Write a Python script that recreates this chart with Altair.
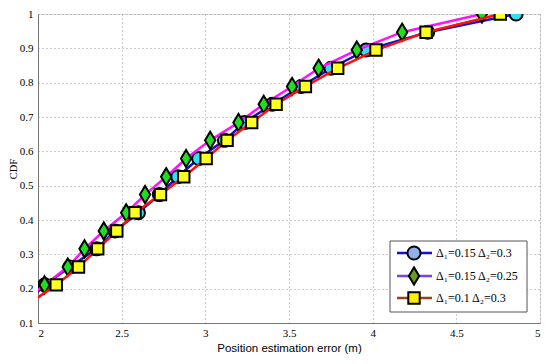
import altair as alt
import pandas as pd

cdf = [0.158, 0.211, 0.263, 0.316, 0.368, 0.421, 0.474, 0.526, 0.579,
       0.632, 0.684, 0.737, 0.789, 0.842, 0.895, 0.947, 1.0]
err_a = [1.93, 2.04, 2.19, 2.35, 2.46, 2.60, 2.725, 2.835, 2.96, 3.114,
         3.234, 3.40, 3.572, 3.751, 3.96, 4.329, 4.857]
err_b = [1.90, 2.039, 2.178, 2.278, 2.393, 2.527, 2.64, 2.766, 2.885, 3.029,
         3.198, 3.349, 3.518, 3.677, 3.905, 4.176, 4.653]
err_c = [1.95, 2.109, 2.242, 2.357, 2.471, 2.58, 2.732, 2.871, 3.005, 3.13,
         3.277, 3.423, 3.598, 3.791, 4.02, 4.319, 4.763]

labels = ["Δ₁=0.15 Δ₂=0.3", "Δ₁=0.15 Δ₂=0.25", "Δ₁=0.1 Δ₂=0.3"]
line_colors = ["#1010d0", "#ff10ff", "#ff1010"]
fill_colors = ["#30e0f0", "#20dd20", "#ffff20"]
legend_line_colors = ["#1010d0", "#7a40f0", "#a0401a"]
legend_fill_colors = ["#8fb0ee", "#6a9a20", "#ffee00"]
diamond = "M0,-1.25L0.75,0L0,1.25L-0.75,0Z"
shapes = ["circle", diamond, "square"]
sizes = [170, 190, 130]

W, H = 502, 309
xs = alt.Scale(domain=[2, 5], nice=False, zero=False)
ys = alt.Scale(domain=[0.1, 1], nice=False, zero=False)

x_axis = alt.Axis(values=[2, 2.5, 3, 3.5, 4, 4.5, 5], format=".1~f",
                  title="Position estimation error (m)",
                  titleFont="Liberation Sans", titleFontSize=11.5, titleFontWeight="normal",
                  titleColor="#000", titlePadding=4,
                  labelFont="Liberation Serif", labelFontSize=11, labelColor="#000",
                  labelPadding=4, ticks=False,
                  grid=True, gridDash=[1, 3], gridColor="#999", gridWidth=1,
                  domainColor="#777")
y_axis = alt.Axis(values=[0.1, 0.2, 0.3, 0.4, 0.5, 0.6, 0.7, 0.8, 0.9, 1.0], format=".1~f",
                  title="CDF", titleFont="Liberation Serif", titleFontSize=10.5,
                  titleFontWeight="normal", titleColor="#000", titlePadding=1,
                  labelFont="Liberation Serif", labelFontSize=11, labelColor="#000",
                  labelPadding=5, ticks=False,
                  grid=True, gridDash=[1, 3], gridColor="#999", gridWidth=1,
                  domainColor="#777")

layers = []
for i, errs in enumerate([err_a, err_b, err_c]):
    df = pd.DataFrame({"err": errs, "cdf": cdf})
    enc = dict(x=alt.X("err:Q", scale=xs, axis=x_axis),
               y=alt.Y("cdf:Q", scale=ys, axis=y_axis))
    line = alt.Chart(df).mark_line(color=line_colors[i], strokeWidth=2.5, clip=True).encode(**enc)
    pts = alt.Chart(df).mark_point(shape=shapes[i], filled=True, fill=fill_colors[i],
                                   stroke="#000", strokeWidth=2, size=sizes[i],
                                   opacity=1, clip=True).encode(**enc)
    layers += [line, pts]

# legend
leg_df = pd.DataFrame({"a": [0]})
box = alt.Chart(leg_df).mark_rect(fill="white", stroke="#555", strokeWidth=1).encode(
    x=alt.value(352), x2=alt.value(489), y=alt.value(227), y2=alt.value(298))
layers.append(box)
ys_leg = [239, 262, 284]
for i in range(3):
    ln = alt.Chart(leg_df).mark_rule(color=legend_line_colors[i], strokeWidth=2.5).encode(
        x=alt.value(359), x2=alt.value(394), y=alt.value(ys_leg[i]))
    mk = alt.Chart(leg_df).mark_point(shape=shapes[i], filled=True, fill=legend_fill_colors[i],
                                      stroke="#000", strokeWidth=2, size=sizes[i], opacity=1).encode(
        x=alt.value(376), y=alt.value(ys_leg[i]))
    tx = alt.Chart(pd.DataFrame({"t": [labels[i]]})).mark_text(
        align="left", baseline="middle", font="Liberation Serif", fontSize=12, color="#000").encode(
        x=alt.value(398), y=alt.value(ys_leg[i]), text="t:N")
    layers += [ln, mk, tx]

chart = alt.layer(*layers).properties(
    width=W, height=H,
    autosize=alt.AutoSizeParams(type="none"),
    padding={"left": 30, "top": 6, "right": 2, "bottom": 33},
).configure_view(stroke="#777", strokeWidth=1).configure(background="white")

chart.save("out.html", embed_options={"renderer": "svg", "actions": False})
